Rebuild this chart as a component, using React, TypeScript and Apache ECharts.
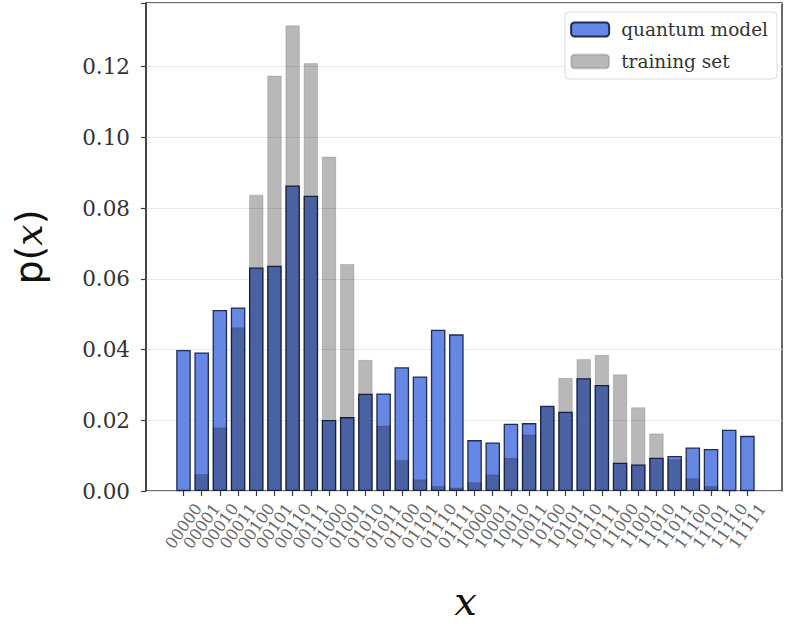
import React, { useEffect, useRef } from "react";
import * as echarts from "echarts";

const categories = [
  "00000", "00001", "00010", "00011", "00100", "00101", "00110", "00111",
  "01000", "01001", "01010", "01011", "01100", "01101", "01110", "01111",
  "10000", "10001", "10010", "10011", "10100", "10101", "10110", "10111",
  "11000", "11001", "11010", "11011", "11100", "11101", "11110", "11111",
];

const quantumModel = [
  0.0399, 0.0392, 0.0512, 0.0519, 0.0632, 0.0637, 0.0864, 0.0835,
  0.0201, 0.0209, 0.0275, 0.0276, 0.035, 0.0324, 0.0456, 0.0443,
  0.0144, 0.0137, 0.019, 0.0192, 0.0241, 0.0224, 0.0319, 0.030,
  0.008, 0.0075, 0.0094, 0.0099, 0.0123, 0.0119, 0.0173, 0.0156,
];

const trainingSet = [
  0.0, 0.0048, 0.018, 0.0463, 0.0838, 0.1175, 0.1317, 0.121,
  0.0946, 0.0642, 0.0371, 0.0185, 0.0088, 0.0033, 0.0014, 0.001,
  0.0025, 0.0047, 0.0094, 0.016, 0.0238, 0.032, 0.0373, 0.0385,
  0.033, 0.0237, 0.0163, 0.009, 0.0036, 0.0014, 0.0, 0.0,
];

const yTicks = [0, 0.02, 0.04, 0.06, 0.08, 0.1, 0.12];

export default function App() {
  const ref = useRef<HTMLDivElement>(null);

  useEffect(() => {
    if (!ref.current) return;
    const chart = echarts.init(ref.current, null, { renderer: "svg" });
    chart.setOption({
      animation: false,
      backgroundColor: "#ffffff",
      grid: [
        {
          left: 146,
          right: 5,
          top: 3,
          bottom: 132,
          show: true,
          borderColor: "#3a3a3a",
          borderWidth: 1.5,
          backgroundColor: "transparent",
          containLabel: false,
          outerBoundsMode: "none",
        },
        {
          left: 174.4,
          right: 30.5,
          top: 3,
          bottom: 132,
          containLabel: false,
          outerBoundsMode: "none",
        },
      ],
      legend: {
        orient: "vertical",
        right: 10,
        top: 12,
        padding: [8, 9, 8, 5],
        itemGap: 13,
        itemWidth: 38,
        itemHeight: 14,
        backgroundColor: "#ffffff",
        borderColor: "#dddddd",
        borderWidth: 1,
        borderRadius: 4,
        textStyle: {
          fontFamily: "DejaVu Serif",
          fontSize: 18.5,
          color: "#333333",
          padding: [0, 0, 0, 7],
        },
        data: ["quantum model", "training set"],
      },
      xAxis: [
        {
          gridIndex: 0,
          type: "value",
          min: 0,
          max: 1,
          show: false,
        },
        {
          gridIndex: 1,
          type: "category",
          data: categories,
          boundaryGap: true,
          splitLine: { show: false },
          axisLine: { show: false },
          axisTick: {
            show: true,
            length: 5,
            alignWithLabel: true,
            interval: 0,
            lineStyle: { color: "#3a3a3a", width: 1.2 },
          },
          axisLabel: {
            interval: 0,
            rotate: 55,
            align: "center",
            verticalAlign: "middle",
            margin: 35,
            fontFamily: "DejaVu Serif",
            fontSize: 16,
            color: "#666666",
          },
          name: "{i|x}",
          nameLocation: "middle",
          nameGap: 90,
          nameTextStyle: {
            rich: {
              i: {
                fontFamily: "DejaVu Serif",
                fontStyle: "italic",
                fontSize: 40,
                lineHeight: 40,
                color: "#111111",
              },
            },
          },
        },
      ],
      yAxis: [
        {
          gridIndex: 0,
          type: "value",
          min: 0,
          max: 0.138,
          interval: 0.02,
          splitLine: { show: true, lineStyle: { color: "#e8e8e8", width: 1.2 } },
          axisLine: { show: true, onZero: false, lineStyle: { color: "#3a3a3a", width: 1.5 } },
          axisTick: { show: true, length: 5, lineStyle: { color: "#3a3a3a", width: 1.2 } },
          axisLabel: {
            fontFamily: "DejaVu Serif",
            fontSize: 21.5,
            color: "#333333",
            margin: 16,
            formatter: (v: number) => {
              const hit = yTicks.find((t) => Math.abs(t - v) < 1e-6);
              return hit === undefined ? "" : hit.toFixed(2);
            },
          },
          name: "{n|p(}{i|x}{n|)}",
          nameLocation: "middle",
          nameGap: 98,
          nameRotate: 90,
          nameTextStyle: {
            rich: {
              n: { fontFamily: "DejaVu Sans", fontSize: 38, color: "#111111" },
              i: {
                fontFamily: "DejaVu Serif",
                fontStyle: "italic",
                fontSize: 38,
                color: "#111111",
              },
            },
          },
        },
        {
          gridIndex: 1,
          type: "value",
          min: 0,
          max: 0.138,
          show: false,
        },
      ],
      series: [
        {
          name: "quantum model",
          type: "bar",
          xAxisIndex: 1,
          yAxisIndex: 1,
          barWidth: "80%",
          barGap: "-100%",
          data: quantumModel,
          itemStyle: {
            color: "#6787e4",
            borderColor: "#1f2b58",
            borderWidth: 1.3,
          },
          z: 2,
        },
        {
          name: "training set",
          type: "bar",
          xAxisIndex: 1,
          yAxisIndex: 1,
          barWidth: "80%",
          barGap: "-100%",
          data: trainingSet,
          itemStyle: {
            color: "rgba(0,0,0,0.28)",
            borderColor: "rgba(0,0,0,0.14)",
            borderWidth: 1,
          },
          z: 3,
        },
      ],
    });
    return () => chart.dispose();
  }, []);

  return (
    <div
      ref={ref}
      style={{ position: "fixed", left: 0, top: 0, width: 787, height: 623 }}
    />
  );
}
